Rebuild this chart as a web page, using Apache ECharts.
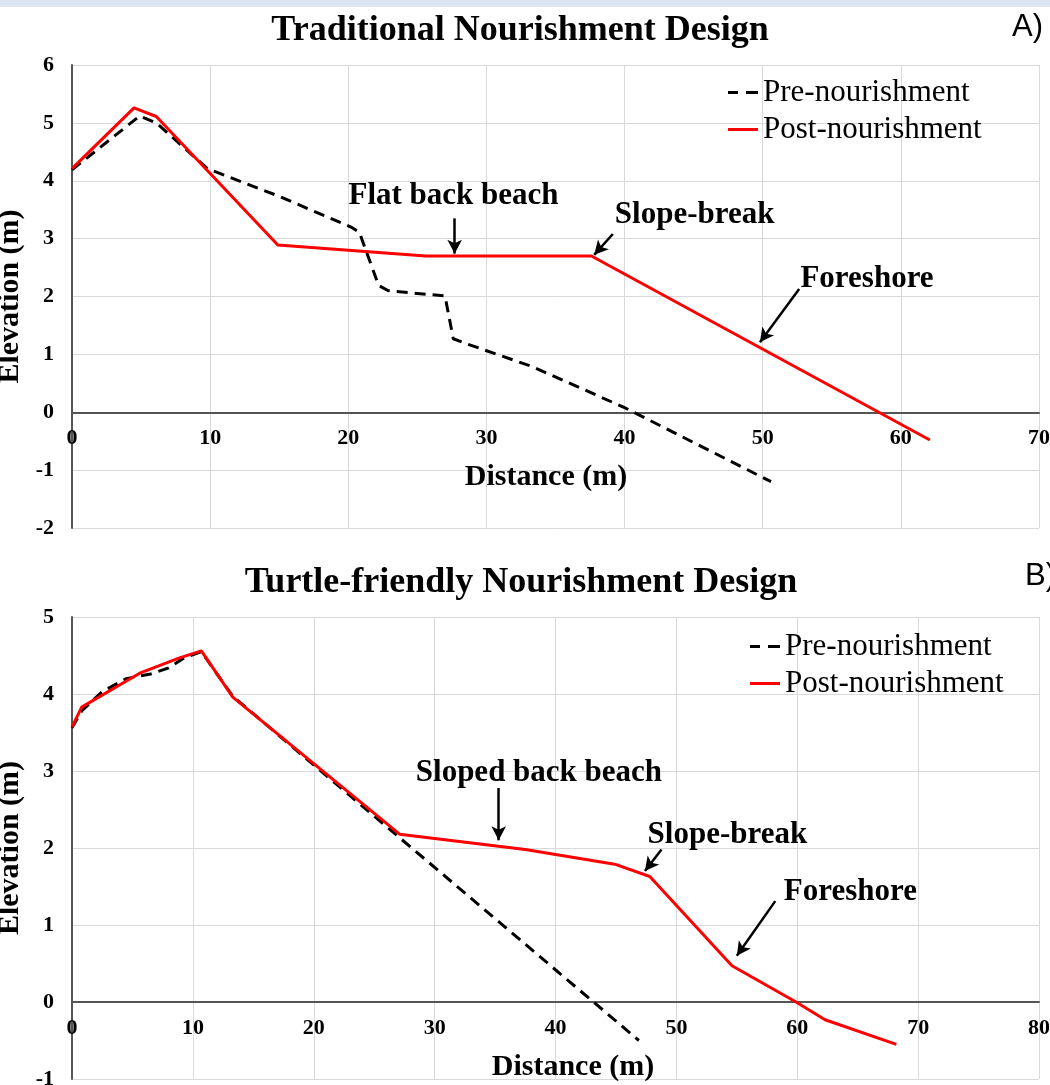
<!DOCTYPE html>
<html>
<head>
<meta charset="utf-8">
<script src="https://cdn.jsdelivr.net/npm/echarts@6/dist/echarts.min.js"></script>
<style>
  html, body { margin: 0; padding: 0; background: #fff; }
  #chart { width: 1050px; height: 1085px; }
</style>
</head>
<body>
<div id="chart"></div>
<script>
// A) traditional design: [distance m, elevation m]
const preA = [[0, 4.19], [4.9, 5.12], [6.1, 5.0], [9.8, 4.21], [14.9, 3.74], [20.2, 3.2], [20.8, 3.11],
  [22.2, 2.19], [22.9, 2.1], [27.0, 2.01], [27.6, 1.27], [28.6, 1.18], [33.3, 0.79], [40.0, 0.08], [50.6, -1.2]]
const postA = [[0, 4.21], [4.49, 5.26], [6.1, 5.11], [14.9, 2.89], [25.6, 2.7], [37.6, 2.7], [62.1, -0.48]]

// B) turtle-friendly design
const preB = [[0, 3.56], [0.8, 3.78], [2.5, 4.03], [4.5, 4.2], [6.5, 4.26], [8, 4.34], [9.3, 4.47],
  [10.7, 4.55], [13.3, 3.97], [46.9, -0.5]]
const postB = [[0, 3.57], [0.8, 3.83], [5.6, 4.27], [8.9, 4.47], [10.7, 4.56], [13.3, 3.96], [27.1, 2.18],
  [37.5, 1.98], [44.9, 1.79], [47.8, 1.63], [54.6, 0.47], [59.9, 0.0], [62.3, -0.23], [68.2, -0.55]]

// annotation text centres and arrows (data units)
const labelsA = [[27.62, 3.73, 'Flat back beach'], [45.07, 3.41, 'Slope-break'], [57.55, 2.3, 'Foreshore']]
const arrowsA = [[[27.7, 3.35], [27.7, 2.74]], [[39.15, 3.08], [37.8, 2.72]], [[52.64, 2.13], [49.8, 1.21]]]
const labelsB = [[38.63, 2.98, 'Sloped back beach'], [54.22, 2.17, 'Slope-break'], [64.4, 1.43, 'Foreshore']]
const arrowsB = [[[35.3, 2.78], [35.3, 2.1]], [[48.77, 1.98], [47.4, 1.7]], [[58.18, 1.31], [55.0, 0.6]]]

const titles = ['Traditional Nourishment Design', 'Turtle-friendly Nourishment Design']
const names = ['Pre-nourishment', 'Post-nourishment']
const yRangeA = [-2, 6]
const yRangeB = [-1, 5]

const serif = 'Liberation Serif'
const grids = [
  { left: 72, right: 11, top: 65, height: 463, outerBoundsMode: 'none', containLabel: false },
  { left: 72, right: 11, top: 617, height: 462, outerBoundsMode: 'none', containLabel: false }
]
const chart = echarts.init(document.getElementById('chart'))

// distance axis drawn along elevation 0: shift it up from the grid bottom
const zeroShift = (g, r) => -g.height * (0 - r[0]) / (r[1] - r[0])

const xAxisOf = (i, max, pad, r) => ({
  gridIndex: i,
  type: 'value',
  min: 0,
  max: max,
  interval: 10,
  offset: zeroShift(grids[i], r),
  name: 'Distance (m)',
  nameLocation: 'middle',
  nameGap: 50,
  nameTextStyle: { fontFamily: serif, fontSize: 30, fontWeight: 'bold', color: '#000', padding: pad },
  axisLine: { onZero: false, lineStyle: { color: '#555', width: 2 } },
  axisTick: { show: false },
  axisLabel: { margin: 15, fontFamily: serif, fontSize: 22, fontWeight: 'bold', color: '#000' },
  splitLine: { show: true, lineStyle: { color: '#d9d9d9', width: 1 } }
})

const yAxisOf = (i, r) => ({
  gridIndex: i,
  type: 'value',
  min: r[0],
  max: r[1],
  interval: 1,
  name: 'Elevation (m)',
  nameLocation: 'middle',
  nameGap: 42,
  nameTextStyle: { fontFamily: serif, fontSize: 30, fontWeight: 'bold', color: '#000' },
  axisLine: { show: true, onZero: false, lineStyle: { color: '#555', width: 2 } },
  axisTick: { show: false },
  axisLabel: { margin: 18, fontFamily: serif, fontSize: 22, fontWeight: 'bold', color: '#000' },
  splitLine: { show: true, lineStyle: { color: '#d9d9d9', width: 1 } }
})

const pre = (i, data) => ({
  name: names[0], type: 'line', xAxisIndex: i, yAxisIndex: i, data: data,
  symbol: 'none', z: 3,
  lineStyle: { color: '#000', width: 3, type: [11, 7] },
  itemStyle: { color: '#000' }
})
const post = (i, data) => ({
  name: names[1], type: 'line', xAxisIndex: i, yAxisIndex: i, data: data,
  symbol: 'none', z: 4,
  lineStyle: { color: '#f00', width: 3 },
  itemStyle: { color: '#f00' }
})
const notes = (i, labels, arrows) => ({
  name: 'notes' + i, type: 'scatter', xAxisIndex: i, yAxisIndex: i,
  data: labels, symbolSize: 0, silent: true, z: 6,
  itemStyle: { opacity: 1 },
  label: {
    show: true, position: 'inside', formatter: p => p.value[2],
    fontFamily: serif, fontSize: 31, fontWeight: 'bold', color: '#000', opacity: 1
  },
  markLine: {
    silent: true, animation: false,
    symbol: ['none', 'arrow'], symbolSize: [11, 14],
    label: { show: false },
    lineStyle: { color: '#000', width: 2.5, type: 'solid', opacity: 1 },
    emphasis: { disabled: true },
    data: arrows.map(a => [{ coord: a[0] }, { coord: a[1] }])
  }
})

// legend keys: two dashes for the pre profile, a solid bar for the post profile
const dashKey = 'path://M0,0h10v3h-10z M18,0h12v3h-12z'
const solidKey = 'path://M0,0h30v3h-30z'
const legendOf = (left, top) => ({
  data: [{ name: names[0], icon: dashKey }, { name: names[1], icon: solidKey }],
  orient: 'vertical', left: left, top: top, padding: 0,
  itemWidth: 30, itemHeight: 3, itemGap: 6,
  textStyle: { fontFamily: serif, fontSize: 31, color: '#000' },
  selectedMode: false
})

chart.setOption({
  animation: false,
  backgroundColor: '#fff',
  title: [
    { text: titles[0], left: 520, top: 13, textAlign: 'center', padding: 0,
      textStyle: { fontFamily: serif, fontSize: 36, fontWeight: 'bold', color: '#000' } },
    { text: titles[1], left: 521, top: 565, textAlign: 'center', padding: 0,
      textStyle: { fontFamily: serif, fontSize: 36, fontWeight: 'bold', color: '#000' } }
  ],
  legend: [legendOf(728, 77), legendOf(750, 631)],
  grid: grids,
  xAxis: [xAxisOf(0, 70, [0, 19, 0, 0], yRangeA), xAxisOf(1, 80, [0, 0, 0, 35], yRangeB)],
  yAxis: [yAxisOf(0, yRangeA), yAxisOf(1, yRangeB)],
  graphic: [
    { type: 'rect', left: 0, top: 0, shape: { width: 1050, height: 7 }, style: { fill: '#dde4f2' }, silent: true },
    { type: 'text', x: 1012, y: 27, style: { text: 'A)', fontFamily: 'Liberation Sans', fontSize: 31, fill: '#000', verticalAlign: 'middle' } },
    { type: 'text', x: 1025, y: 576, style: { text: 'B)', fontFamily: 'Liberation Sans', fontSize: 31, fill: '#000', verticalAlign: 'middle' } }
  ],
  series: [
    pre(0, preA), post(0, postA), notes(0, labelsA, arrowsA),
    pre(1, preB), post(1, postB), notes(1, labelsB, arrowsB)
  ]
})
</script>
</body>
</html>
